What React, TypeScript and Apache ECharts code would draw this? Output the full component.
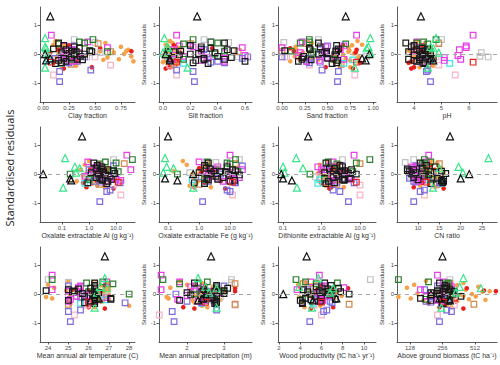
import React, { useEffect, useRef } from "react";
import * as echarts from "echarts";

// Column order of every site row:
// residual, clay, silt, sand, pH, oxalate Al, oxalate Fe, dithionite Al, CN, MAT, MAP, wood productivity, AGB
const blackTriangles = [
  [1.3, 0.07, 0.25, 0.7, 4.25, 0.55, 0.1, 0.45, 17.5, 26.8, 2.65, 4.6, 256],
  [0.0, 0.02, 0.02, 0.96, 4.3, 0.02, 0.65, 0.09, 22, 26.3, 2.5, 2.4, 200],
  [-0.15, 0.07, 0.05, 0.88, 4.6, 0.2, 0.08, 0.1, 20, 26.5, 2.4, 7.4, 240],
  [-0.22, 0.03, 0.05, 0.92, 4.7, 0.22, 0.2, 0.17, 15.5, 26.1, 2.3, 5.2, 300],
];
const greenTriangles = [
  [0.55, 0.02, 0.01, 0.97, 4.8, 0.13, 0.08, 0.22, 26.5, 26.8, 2.3, 5.7, 400],
  [0.25, 0.02, 0.03, 0.95, 4.6, 0.3, 0.09, 0.1, 19.5, 26.6, 2.5, 3.9, 370],
  [0.2, 0.03, 0.04, 0.93, 4.7, 0.45, 0.15, 0.33, 15, 26.9, 2.8, 7.1, 580],
  [0.05, 0.03, 0.0, 0.97, 4.9, 0.33, 0.07, 0.11, 20.5, 26.4, 2.6, 6.8, 340],
  [-0.47, 0.02, 0.18, 0.8, 4.5, 0.11, 0.65, 0.23, 13.5, 26.3, 2.8, 5.1, 250],
];
const blackSquares = [
  [0.38, 0.15, 0.45, 0.4, 3.7, 1.5, 2.0, 1.3, 10.5, 26.3, 2.2, 6.3, 240],
  [0.3, 0.2, 0.2, 0.6, 4.0, 2.0, 1.5, 3.0, 12.0, 26.3, 2.8, 6.9, 270],
  [0.25, 0.3, 0.28, 0.42, 3.9, 3.0, 8.0, 3.5, 14.0, 26.3, 2.8, 5.5, 280],
  [0.2, 0.35, 0.35, 0.3, 4.3, 1.8, 1.7, 2.2, 11.0, 26.1, 3.1, 7.6, 270],
  [0.15, 0.22, 0.47, 0.31, 4.1, 5.0, 12, 6.0, 9.0, 25.0, 2.45, 4.3, 300],
  [0.12, 0.45, 0.52, 0.03, 4.4, 8.0, 15, 4.0, 7.5, 23.9, 3.0, 5.8, 230],
  [0.1, 0.28, 0.13, 0.59, 4.2, 2.5, 3.0, 2.0, 15.5, 25.3, 2.75, 6.5, 330],
  [0.08, 0.32, 0.08, 0.6, 3.8, 3.5, 5.0, 3.0, 13.0, 25.2, 2.4, 4.7, 260],
  [0.05, 0.18, 0.38, 0.44, 4.5, 1.2, 1.0, 1.2, 9.5, 26.5, 2.0, 6.1, 200],
  [0.02, 0.25, 0.26, 0.49, 4.6, 9.0, 2.5, 5.0, 16.5, 25.7, 3.0, 7.0, 230],
  [0.0, 0.4, 0.2, 0.4, 4.3, 2.2, 9.0, 8.0, 8.5, 26.2, 2.55, 8.6, 320],
  [-0.03, 0.3, 0.12, 0.58, 4.0, 4.0, 20, 2.5, 12.5, 26.3, 2.1, 6.8, 240],
  [-0.08, 0.36, 0.4, 0.24, 4.45, 6.0, 3.5, 2.8, 11.5, 25.8, 2.8, 5.4, 380],
  [-0.12, 0.27, 0.5, 0.23, 4.2, 1.8, 6.0, 2.0, 9.0, 26.3, 2.7, 6.0, 270],
  [-0.15, 0.2, 0.3, 0.5, 4.7, 2.5, 1.8, 5.5, 14.5, 27.1, 2.65, 4.5, 160],
  [-0.18, 0.33, 0.45, 0.22, 3.8, 7.0, 4.0, 3.5, 16.0, 27.1, 2.45, 7.3, 250],
  [-0.2, 0.38, 0.3, 0.32, 4.2, 3.0, 2.0, 4.0, 10.0, 26.3, 2.75, 5.0, 300],
  [-0.25, 0.22, 0.6, 0.18, 4.1, 5.0, 10, 1.5, 16.0, 26.3, 2.8, 5.9, 290],
  [-0.3, 0.18, 0.22, 0.6, 4.4, 0.9, 0.7, 2.2, 15.8, 25.8, 2.8, 4.2, 255],
  [-0.33, 0.12, 0.33, 0.55, 4.35, 4.5, 1.5, 1.3, 13.0, 26.3, 2.75, 4.2, 260],
  [-0.22, 0.15, 0.24, 0.61, 4.0, 3.2, 14, 3.8, 15.5, 25.0, 1.8, 4.0, 200],
  [0.18, 0.1, 0.28, 0.62, 4.5, 2.8, 2.3, 1.6, 7.5, 25.5, 2.8, 6.6, 270],
  [0.08, 0.47, 0.04, 0.49, 4.3, 3.2, 7.0, 3.3, 8.0, 26.3, 2.5, 7.8, 290],
];
const darkGreenSquares = [
  [0.5, 0.48, 0.22, 0.3, 4.8, 40, 15, 18, 11.5, 24.2, 1.35, 3.6, 100],
  [0.42, 0.35, 0.35, 0.3, 4.35, 4.0, 1.8, 1.5, 13.0, 26.7, 2.55, 4.5, 190],
  [0.35, 0.15, 0.15, 0.7, 4.5, 2.5, 10, 2.5, 11.0, 27.2, 1.8, 5.5, 280],
  [0.1, 0.45, 0.45, 0.1, 4.4, 7.0, 5, 3.0, 12.5, 25.3, 3.0, 6.9, 310],
  [0.08, 0.62, 0.04, 0.34, 4.6, 12, 18, 6.5, 11.0, 26.0, 2.9, 6.2, 230],
  [0.0, 0.3, 0.38, 0.32, 4.2, 0.2, 0.2, 0.5, 12.0, 28.0, 2.2, 5.0, 300],
  [-0.18, 0.28, 0.15, 0.57, 4.4, 1.0, 1.5, 1.2, 13.5, 26.4, 2.8, 4.2, 180],
  [0.38, 0.4, 0.4, 0.2, 4.1, 10, 8, 8.0, 11.5, 25.9, 2.3, 7.5, 290],
];
const magentaSquares = [
  [0.65, 0.08, 0.1, 0.82, 6.15, 25, 10, 7.0, 12.5, 24.2, 1.3, 5.8, 230],
  [0.42, 0.43, 0.35, 0.22, 4.1, 0.9, 1.0, 2.0, 12.0, 26.9, 1.8, 5.0, 260],
  [0.28, 0.2, 0.12, 0.68, 5.9, 2.2, 8.0, 1.6, 10.0, 25.6, 2.2, 6.3, 300],
  [0.22, 0.62, 0.58, 0.0, 5.9, 1.6, 1.7, 1.4, 9.0, 25.5, 2.4, 8.1, 270],
  [0.15, 0.28, 0.08, 0.64, 5.65, 35, 25, 1.0, 9.5, 24.2, 1.3, 3.7, 160],
  [0.1, 0.25, 0.28, 0.47, 4.0, 2.0, 3.0, 3.5, 8.5, 25.0, 2.6, 6.2, 240],
  [0.05, 0.35, 0.45, 0.2, 4.5, 1.5, 12, 4.5, 11.0, 25.5, 2.9, 5.6, 270],
  [-0.05, 0.22, 0.6, 0.18, 5.6, 3.0, 2.0, 2.8, 9.0, 25.9, 2.0, 6.7, 200],
  [-0.12, 0.18, 0.33, 0.49, 5.1, 8.0, 20, 5.0, 10.5, 26.9, 2.6, 6.0, 250],
  [-0.18, 0.25, 0.07, 0.68, 5.7, 10, 14, 6.0, 9.5, 25.1, 1.75, 5.9, 230],
  [-0.22, 0.31, 0.28, 0.41, 5.1, 15, 9.0, 2.0, 11.0, 26.3, 2.5, 6.1, 230],
  [-0.25, 0.28, 0.45, 0.27, 4.5, 4.0, 6.0, 1.5, 10.0, 25.0, 2.3, 5.7, 270],
  [0.25, 0.3, 0.22, 0.48, 4.3, 2.0, 4.0, 0.8, 8.5, 25.6, 2.1, 6.3, 310],
  [-0.08, 0.26, 0.15, 0.59, 4.2, 0.7, 2.5, 1.8, 10.0, 25.4, 2.5, 6.4, 180],
];
const purpleSquares = [
  [-0.95, 0.16, 0.23, 0.61, 4.6, 2.5, 1.3, 5.0, 9.0, 25.1, 1.65, 4.9, 240],
  [-0.6, 0.16, 0.22, 0.62, 4.45, 4.5, 10, 3.0, 10.5, 25.0, 1.6, 6.2, 310],
  [-0.55, 0.46, 0.1, 0.44, 4.5, 6.0, 8, 2.0, 11.5, 25.6, 2.8, 6.5, 280],
  [-0.3, 0.25, 0.45, 0.3, 4.3, 14, 15, 7.0, 15.0, 27.8, 2.4, 7.0, 250],
  [-0.25, 0.33, 0.4, 0.27, 4.1, 1.5, 2.0, 1.6, 9.0, 26.3, 2.0, 6.8, 180],
  [-0.15, 0.12, 0.58, 0.3, 4.2, 3.0, 4.0, 4.0, 8.0, 26.0, 2.8, 4.5, 200],
  [0.0, 0.2, 0.32, 0.48, 4.4, 2.0, 5.0, 2.5, 10.0, 25.8, 1.7, 5.5, 260],
  [0.28, 0.3, 0.2, 0.5, 4.0, 8.0, 25, 3.5, 9.5, 25.0, 3.0, 6.0, 230],
  [-0.1, 0.4, 0.62, 0.0, 4.35, 5.0, 1.2, 5.5, 13.5, 25.6, 2.5, 5.8, 270],
  [0.15, 0.28, 0.3, 0.42, 4.1, 1.0, 3.5, 1.3, 8.5, 25.0, 2.2, 4.7, 175],
  [-0.28, 0.23, 0.35, 0.42, 4.4, 2.8, 14, 2.5, 9.5, 26.0, 2.75, 4.2, 200],
];
const pinkSquares = [
  [-0.72, 0.1, 0.1, 0.8, 5.5, 15, 12, 10, 11.5, 25.3, 1.25, 6.0, 230],
  [-0.38, 0.65, 0.05, 0.3, 4.9, 8.0, 0.65, 10, 14.0, 25.9, 3.3, 5.3, 330],
  [-0.1, 0.5, 0.45, 0.05, 4.8, 1.2, 2.0, 0.9, 10.0, 25.0, 2.6, 5.0, 320],
];
const greySquares = [
  [0.5, 0.3, 0.3, 0.4, 5.0, 8.0, 20, 3.5, 9.0, 24.0, 3.2, 10.6, 300],
  [0.4, 0.5, 0.48, 0.02, 4.9, 4.0, 3.5, 1.5, 7.0, 25.0, 3.2, 5.5, 280],
  [0.05, 0.55, 0.1, 0.35, 6.45, 1.0, 0.5, 1.0, 14.5, 26.3, 2.4, 4.9, 200],
  [-0.1, 0.42, 0.55, 0.03, 6.7, 0.9, 1.5, 0.7, 10.0, 26.8, 2.9, 6.0, 260],
  [-0.08, 0.05, 0.02, 0.93, 6.4, 1.8, 4.0, 2.0, 8.0, 25.4, 2.8, 4.2, 230],
];
const brownSquares = [
  [0.36, 0.53, 0.2, 0.27, 4.9, 20, 15, 10, 15.0, 26.3, 3.3, 4.3, 300],
  [-0.35, 0.27, 0.08, 0.65, 4.5, 2.5, 1.0, 2.5, 14.5, 25.0, 3.3, 8.6, 500],
  [0.08, 0.65, 0.55, 0.0, 4.2, 4.0, 5.0, 1.2, 10.0, 26.4, 2.6, 6.0, 240],
];
const cyanSquares = [
  [-0.32, 0.17, 0.15, 0.68, 5.3, 0.7, 1.5, 0.8, 15.5, 25.6, 2.4, 5.2, 250],
  [-0.2, 0.05, 0.05, 0.78, 4.6, 1.0, 0.6, 0.9, 12.5, 26.8, 2.6, 5.8, 280],
];
const redSquares = [
  [-0.28, 0.08, 0.1, 0.82, 6.15, 12, 12, 8, 12.0, 26.0, 2.5, 6.0, 260],
];
const orangeCircles = [
  [0.45, 0.12, 0.05, 0.83, 4.1, 1.0, 0.3, 1.5, 13.0, 25.0, 1.8, 5.5, 180],
  [0.38, 0.6, 0.07, 0.33, 4.4, 2.5, 2.0, 3.0, 14.5, 26.9, 2.4, 4.5, 400],
  [0.3, 0.2, 0.03, 0.77, 4.3, 3.0, 1.5, 2.0, 12.0, 26.6, 2.2, 5.0, 350],
  [0.25, 0.75, 0.1, 0.15, 4.0, 1.5, 4.0, 2.5, 11.5, 27.0, 2.7, 6.0, 550],
  [0.2, 0.3, 0.05, 0.65, 4.6, 5.0, 3.0, 4.0, 15.5, 26.8, 2.9, 7.0, 300],
  [0.15, 0.82, 0.02, 0.16, 4.2, 0.5, 1.2, 1.0, 13.5, 27.0, 2.1, 6.5, 420],
  [0.12, 0.18, 0.08, 0.74, 3.8, 1.8, 2.5, 2.0, 10.5, 24.9, 2.5, 5.2, 280],
  [0.1, 0.55, 0.12, 0.33, 4.5, 3.5, 0.15, 1.8, 14.0, 26.5, 3.0, 4.8, 260],
  [0.08, 0.25, 0.02, 0.73, 4.4, 1.2, 1.8, 1.5, 12.5, 26.7, 2.6, 7.5, 600],
  [0.05, 0.68, 0.09, 0.23, 3.9, 2.0, 3.5, 3.5, 16.0, 26.0, 2.3, 5.8, 230],
  [0.02, 0.15, 0.06, 0.79, 4.2, 0.8, 1.0, 0.8, 11.0, 25.5, 2.15, 4.4, 150],
  [0.0, 0.78, 0.04, 0.18, 4.6, 1.6, 0.6, 2.2, 14.0, 26.7, 2.8, 6.4, 480],
  [-0.02, 0.22, 0.11, 0.67, 4.3, 2.8, 2.2, 3.0, 10.0, 27.0, 2.35, 5.6, 380],
  [-0.05, 0.35, 0.05, 0.6, 4.1, 0.6, 1.6, 1.2, 13.0, 25.1, 2.2, 4.7, 200],
  [-0.08, 0.85, 0.01, 0.14, 4.5, 2.2, 2.8, 2.8, 12.0, 26.4, 2.5, 6.9, 520],
  [-0.1, 0.13, 0.03, 0.84, 4.0, 1.4, 0.7, 1.4, 15.0, 23.9, 1.45, 3.9, 100],
  [-0.12, 0.62, 0.06, 0.32, 4.7, 4.0, 3.2, 4.5, 11.5, 26.9, 2.4, 5.1, 330],
  [-0.15, 0.28, 0.02, 0.7, 4.2, 0.9, 2.0, 1.1, 12.0, 24.2, 1.5, 6.2, 130],
  [-0.18, 0.73, 0.08, 0.19, 4.4, 2.6, 1.3, 2.2, 14.5, 27.0, 2.65, 7.2, 450],
  [-0.22, 0.2, 0.05, 0.75, 4.1, 1.7, 4.5, 1.7, 13.5, 25.0, 2.15, 4.1, 170],
  [-0.25, 0.87, 0.04, 0.09, 4.5, 0.35, 0.9, 0.9, 15.0, 26.7, 2.7, 5.3, 350],
  [-0.28, 0.16, 0.0, 0.84, 3.9, 2.1, 1.9, 2.6, 11.0, 26.2, 2.2, 5.5, 260],
  [-0.33, 0.26, 0.1, 0.64, 4.3, 1.3, 0.8, 1.0, 12.5, 25.1, 2.35, 4.3, 190],
  [-0.4, 0.32, 0.04, 0.64, 4.7, 2.0, 0.5, 1.3, 10.5, 28.0, 2.4, 5.9, 280],
  [-0.45, 0.18, 0.07, 0.75, 4.2, 3.8, 2.4, 3.8, 14.0, 26.3, 2.55, 4.4, 310],
  [0.22, 0.14, 0.13, 0.73, 4.0, 1.1, 1.1, 1.9, 11.5, 24.3, 1.55, 4.0, 120],
  [-0.2, 0.58, 0.02, 0.4, 4.3, 1.9, 1.4, 2.0, 15.5, 26.5, 2.9, 6.0, 640],
  [0.1, 0.8, 0.06, 0.14, 4.6, 2.7, 2.6, 3.2, 12.0, 26.8, 2.3, 5.4, 700],
  [-0.06, 0.4, 0.03, 0.57, 4.4, 1.4, 3.0, 1.6, 13.5, 26.6, 2.45, 7.9, 400],
  [0.32, 0.1, 0.02, 0.88, 4.1, 0.7, 0.4, 0.9, 11.0, 24.0, 2.0, 3.8, 140],
];
const redCircles = [
  [-0.5, 0.2, 0.02, 0.78, 3.9, 8.0, 7.0, 1.6, 16.0, 26.8, 2.2, 5.0, 400],
  [-0.45, 0.47, 0.05, 0.48, 4.0, 0.8, 0.7, 1.8, 9.0, 26.0, 1.9, 7.1, 240],
  [-0.3, 0.1, 0.04, 0.86, 3.8, 0.6, 1.5, 1.0, 11.0, 26.3, 2.7, 5.8, 190],
  [0.3, 0.25, 0.08, 0.67, 4.3, 3.0, 2.0, 2.5, 13.0, 26.8, 2.5, 6.0, 300],
  [0.2, 0.55, 0.36, 0.09, 4.1, 2.2, 1.0, 2.0, 12.0, 25.4, 3.3, 8.5, 430],
  [0.1, 0.85, 0.02, 0.13, 4.4, 1.5, 2.4, 3.2, 10.5, 26.6, 3.3, 6.4, 800],
  [0.15, 0.15, 0.03, 0.82, 4.2, 1.1, 1.8, 1.8, 14.0, 25.2, 2.4, 5.6, 300],
  [0.05, 0.07, 0.12, 0.81, 4.1, 2.6, 1.2, 0.9, 12.0, 26.4, 2.75, 5.2, 250],
  [-0.25, 0.33, 0.1, 0.57, 3.9, 2.0, 5.0, 2.0, 15.0, 26.6, 2.55, 6.2, 340],
  [0.12, 0.3, 0.06, 0.64, 4.5, 4.5, 3.0, 4.5, 11.5, 26.0, 2.65, 7.0, 620],
];

const panelTitles = [
  "Clay fraction",
  "Silt fraction",
  "Sand fraction",
  "pH",
  "Oxalate extractable Al (g kg⁻¹)",
  "Oxalate extractable Fe (g kg⁻¹)",
  "Dithionite extractable Al (g kg⁻¹)",
  "CN ratio",
  "Mean annual air temperature (C)",
  "Mean annual precipitation (m)",
  "Wood productivity (tC ha⁻¹ yr⁻¹)",
  "Above ground biomass (tC ha⁻¹)",
];
const panelTicks = [
  [0, 0.25, 0.5, 0.75],
  [0, 0.2, 0.4, 0.6],
  [0, 0.25, 0.5, 0.75, 1],
  [4, 5, 6],
  [0.1, 1, 10],
  [0.1, 1, 10],
  [0.1, 1, 10],
  [10, 15, 20, 25],
  [24, 25, 26, 27, 28],
  [2, 3],
  [2, 4, 6, 8, 10],
  [128, 256, 512],
];
const panelDecimals = [2, 1, 2, 0, 1, 1, 1, 0, 0, 0, 0, 0];
const yTicks = [-1, 0, 1];

// axis layout
const panelExtents = [
  [-0.029, 0.885],
  [-0.029, 0.651],
  [-0.044, 1.033],
  [3.38, 7.02],
  [0.0153, 50],
  [0.051, 51],
  [0.074, 26],
  [5.08, 28.5],
  [23.6, 28.29],
  [1.243, 3.757],
  [1.906, 11.13],
  [97, 819],
];
const panelLogBase = [0, 0, 0, 0, 10, 10, 10, 0, 0, 0, 0, 2];
const colLayout = [
  { left: 40, width: 95 },
  { left: 159, width: 93 },
  { left: 278, width: 98 },
  { left: 397, width: 100 },
];
const rowTops = [7, 127, 247];
const rowHeight = 95;

const groups = [
  { rows: orangeCircles, symbol: "circle", color: "#F7A248", filled: true, size: 4.6 },
  { rows: redCircles, symbol: "circle", color: "#E8201C", filled: true, size: 4.6 },
  { rows: greySquares, symbol: "rect", color: "#C2C2C2", filled: false, size: 5.6 },
  { rows: pinkSquares, symbol: "rect", color: "#F5B3C6", filled: false, size: 5.6 },
  { rows: brownSquares, symbol: "rect", color: "#D08A4E", filled: false, size: 5.6 },
  { rows: cyanSquares, symbol: "rect", color: "#3DE3E6", filled: false, size: 5.6 },
  { rows: purpleSquares, symbol: "rect", color: "#7A6BE0", filled: false, size: 5.6 },
  { rows: magentaSquares, symbol: "rect", color: "#E83DE8", filled: false, size: 5.6 },
  { rows: darkGreenSquares, symbol: "rect", color: "#2A7F2E", filled: false, size: 5.6 },
  { rows: blackSquares, symbol: "rect", color: "#1A1A1A", filled: false, size: 5.6 },
  { rows: redSquares, symbol: "rect", color: "#E8201C", filled: false, size: 5.6 },
  { rows: greenTriangles, symbol: "triangle", color: "#38E58A", filled: false, size: 7 },
  { rows: blackTriangles, symbol: "triangle", color: "#111111", filled: false, size: 7 },
];

const FONT = "'Liberation Sans', Arial, sans-serif";

function buildOption() {
  const grid: any[] = [];
  const xAxis: any[] = [];
  const yAxis: any[] = [];
  const series: any[] = [];
  for (let p = 0; p < 12; p++) {
    const col = p % 4;
    const row = Math.floor(p / 4);
    grid.push({
      left: colLayout[col].left,
      width: colLayout[col].width,
      top: rowTops[row],
      height: rowHeight,
    });
    const logBase = panelLogBase[p];
    const dec = panelDecimals[p];
    xAxis.push({
      gridIndex: p,
      type: logBase ? "log" : "value",
      logBase: logBase || undefined,
      min: panelExtents[p][0],
      max: panelExtents[p][1],
      name: panelTitles[p],
      nameLocation: "middle",
      nameGap: 10,
      nameTextStyle: { fontSize: 7, color: "#333", fontFamily: FONT },
      splitLine: { show: false },
      axisLine: { show: true, onZero: false, lineStyle: { color: "#333", width: 0.8 } },
      axisTick: {
        show: true,
        length: 2.5,
        customValues: panelTicks[p],
        lineStyle: { color: "#333", width: 0.8 },
      },
      axisLabel: {
        fontSize: 6,
        color: "#4D4D4D",
        margin: 2.5,
        fontFamily: FONT,
        customValues: panelTicks[p],
        formatter: (v: number) => Number(v).toFixed(dec),
      },
    });
    yAxis.push({
      gridIndex: p,
      type: "value",
      min: -1.65,
      max: 1.62,
      name: col === 0 ? "" : "Standardised residuals",
      nameLocation: "middle",
      nameGap: 11,
      nameTextStyle: { fontSize: 6, color: "#333", fontFamily: FONT },
      splitLine: { show: false },
      axisLine: { show: true, onZero: false, lineStyle: { color: "#333", width: 0.8 } },
      axisTick: {
        show: true,
        length: 2.5,
        customValues: yTicks,
        lineStyle: { color: "#333", width: 0.8 },
      },
      axisLabel: {
        fontSize: 6,
        color: "#4D4D4D",
        margin: 3,
        fontFamily: FONT,
        customValues: yTicks,
        formatter: (v: number) => String(Math.round(v)),
      },
    });
    series.push({
      type: "scatter",
      xAxisIndex: p,
      yAxisIndex: p,
      data: [],
      silent: true,
      markLine: {
        silent: true,
        symbol: ["none", "none"],
        label: { show: false },
        lineStyle: { type: [4, 4], color: "#A6A6A6", width: 1 },
        data: [{ yAxis: 0 }],
      },
    });
    groups.forEach((g) => {
      series.push({
        type: "scatter",
        xAxisIndex: p,
        yAxisIndex: p,
        symbol: g.symbol,
        symbolSize: g.size,
        silent: true,
        emphasis: { disabled: true },
        itemStyle: g.filled
          ? { color: g.color, opacity: 1 }
          : { color: "rgba(0,0,0,0)", borderColor: g.color, borderWidth: 1.2, opacity: 1 },
        data: g.rows.map((r) => [r[p + 1], r[0]]),
      });
    });
  }
  return {
    animation: false,
    backgroundColor: "#FFFFFF",
    grid,
    xAxis,
    yAxis,
    series,
    graphic: [
      {
        type: "text",
        x: 9,
        y: 168,
        rotation: Math.PI / 2,
        style: {
          text: "Standardised residuals",
          fontSize: 11,
          fontFamily: "'Open Sans', sans-serif",
          fill: "#222",
          textAlign: "center",
          textVerticalAlign: "middle",
        },
      },
    ],
  };
}

export default function App() {
  const ref = useRef<HTMLDivElement>(null);
  useEffect(() => {
    if (!ref.current) return;
    const chart = echarts.init(ref.current, undefined, { renderer: "svg" });
    chart.setOption(buildOption() as any);
    return () => chart.dispose();
  }, []);
  return (
    <div
      ref={ref}
      style={{ position: "fixed", left: 0, top: 0, width: 500, height: 365, background: "#fff" }}
    />
  );
}
